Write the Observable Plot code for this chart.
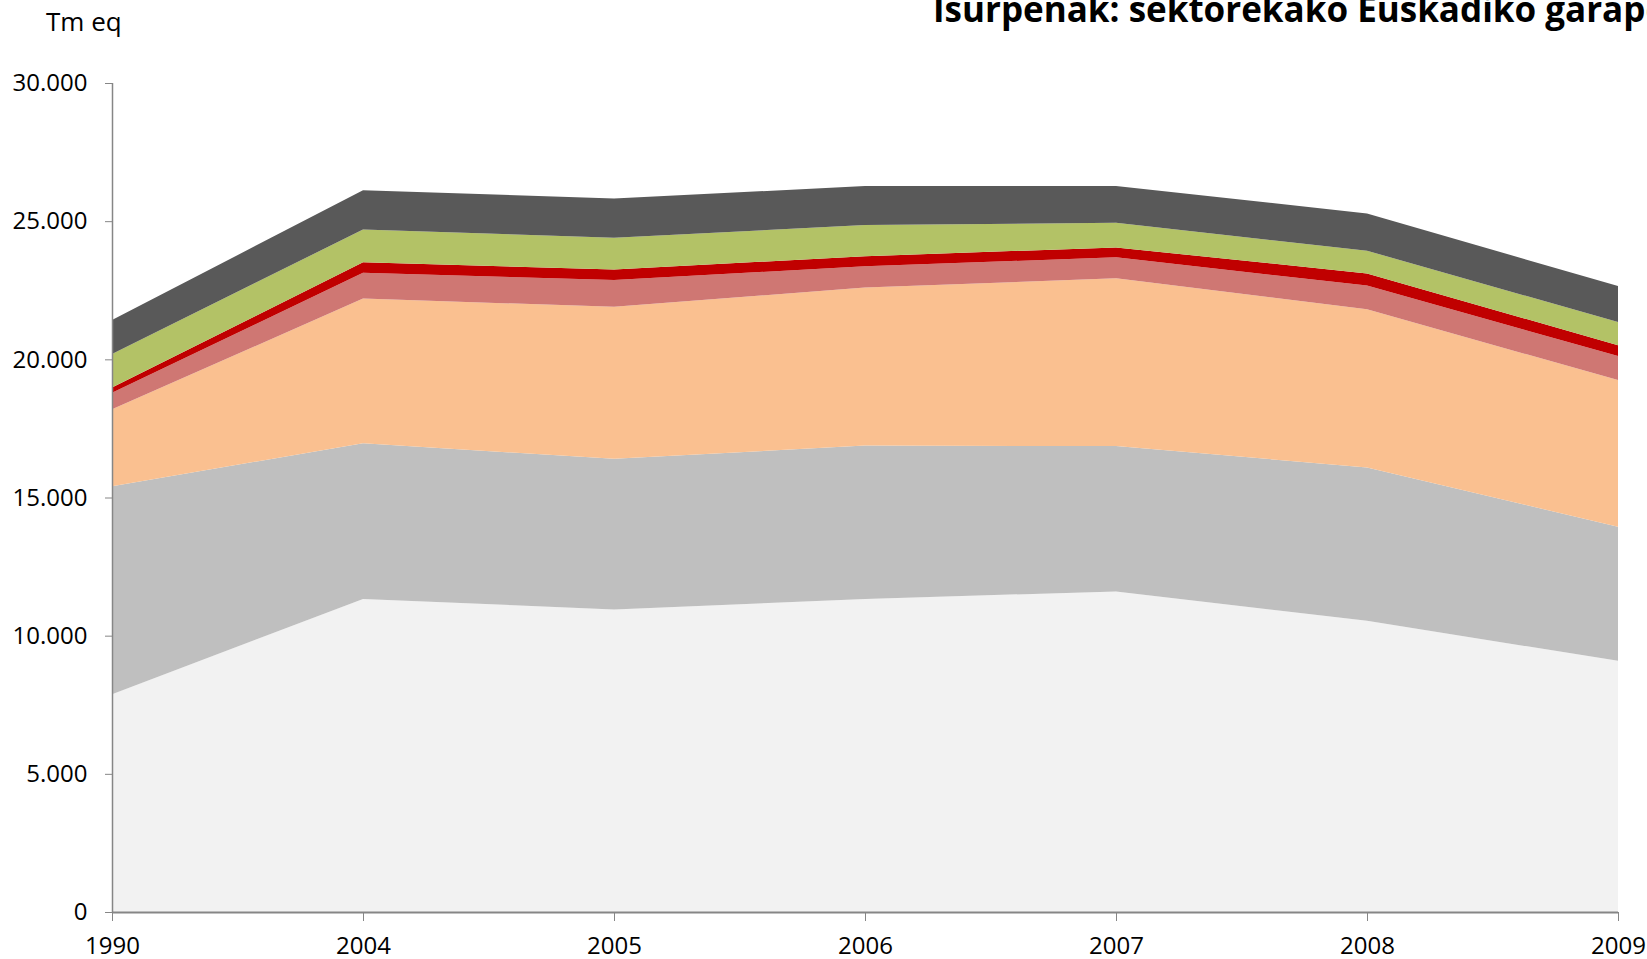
<!DOCTYPE html>
<html>
<head>
<meta charset="utf-8">
<script src="https://cdn.jsdelivr.net/npm/d3@7"></script>
<script src="https://cdn.jsdelivr.net/npm/@observablehq/plot@0.6"></script>
<style>
  html, body { margin: 0; padding: 0; background: #fff; overflow: hidden; }
  #wrap { position: relative; width: 1647px; height: 959px; overflow: hidden; }
  #title { position: absolute; left: 933px; top: -9px; font-family: "Open Sans", sans-serif; font-weight: bold; font-size: 35px; line-height: 1; white-space: nowrap; color: #000; }
  #unit { position: absolute; left: 46px; top: 8px; font-family: "Open Sans", sans-serif; font-size: 26px; line-height: 1; color: #000; }
</style>
</head>
<body>
<div id="wrap">
  <div id="chart"></div>
  <div id="title">Isurpenak: sektorekako Euskadiko garapena</div>
  <div id="unit">Tm eq</div>
</div>
<script>
const years = ["1990", "2004", "2005", "2006", "2007", "2008", "2009"];
const series = ["S1", "S2", "S3", "S4", "S5", "S6", "S7"];
const colors = ["#F2F2F2", "#BFBFBF", "#FAC090", "#CF7773", "#C00000", "#B3C266", "#595959"];
const s1 = [7880, 11330, 10950, 11330, 11600, 10540, 9090];
const s2 = [7530, 5630, 5450, 5550, 5260, 5550, 4850];
const s3 = [2780, 5240, 5500, 5720, 6070, 5720, 5310];
const s4 = [600, 930, 970, 770, 760, 860, 870];
const s5 = [190, 380, 380, 360, 360, 440, 390];
const s6 = [1210, 1190, 1150, 1130, 890, 820, 840];
const s7 = [1230, 1420, 1420, 1410, 1330, 1350, 1300];
const yTicks = [0, 5000, 10000, 15000, 20000, 25000, 30000];

const valuesBySeries = [s1, s2, s3, s4, s5, s6, s7];
const data = [];
series.forEach((s, i) => years.forEach((y, j) => data.push({year: y, series: s, value: valuesBySeries[i][j]})));

const fmt = d3.formatLocale({decimal: ",", thousands: ".", grouping: [3]}).format(",");
const axisColor = "#868686";

const chart = Plot.plot({
  width: 1647,
  height: 959,
  marginLeft: 112,
  marginRight: 29,
  marginTop: 83,
  marginBottom: 47,
  style: {fontFamily: "Open Sans, sans-serif", fontSize: "24px", background: "#fff", color: "#000"},
  x: {type: "point", domain: years, padding: 0},
  y: {domain: [0, 30000]},
  color: {domain: series, range: colors},
  marks: [
    Plot.areaY(data, {x: "year", y: "value", z: "series", fill: "series", order: series, curve: "linear"}),
    Plot.ruleX([years[0]], {y1: 0, y2: 30000, stroke: axisColor, strokeWidth: 1.5}),
    Plot.ruleY([0], {stroke: axisColor, strokeWidth: 2}),
    Plot.axisY({ticks: yTicks, tickSize: 7, tickPadding: 18, tickFormat: d => fmt(d), stroke: axisColor, fill: "#000", fontSize: 24, label: null}),
    Plot.axisX({tickSize: 9, tickPadding: 15, stroke: axisColor, fill: "#000", fontSize: 24, label: null})
  ]
});
document.getElementById("chart").appendChild(chart);
</script>
</body>
</html>
